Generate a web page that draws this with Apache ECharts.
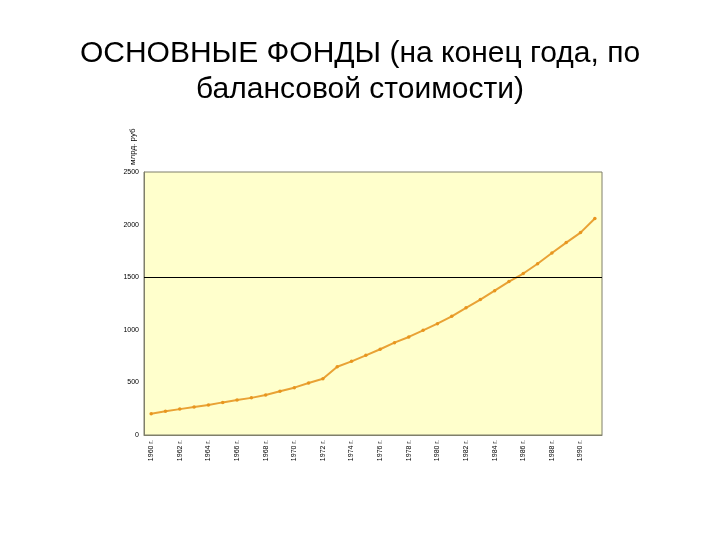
<!DOCTYPE html>
<html>
<head>
<meta charset="utf-8">
<script src="https://cdn.jsdelivr.net/npm/echarts@6/dist/echarts.min.js"></script>
<style>
html,body{margin:0;padding:0;background:#fff;}
#main{width:720px;height:540px;}
</style>
</head>
<body>
<div id="main"></div>
<script>
var years = ['1960 г.','1961 г.','1962 г.','1963 г.','1964 г.','1965 г.','1966 г.','1967 г.','1968 г.','1969 г.',
  '1970 г.','1971 г.','1972 г.','1973 г.','1974 г.','1975 г.','1976 г.','1977 г.','1978 г.','1979 г.',
  '1980 г.','1981 г.','1982 г.','1983 г.','1984 г.','1985 г.','1986 г.','1987 г.','1988 г.','1989 г.',
  '1990 г.','1991 г.'];
var fixedAssets = [203,225,246,266,286,310,332,353,380,415,
  450,494,534,649,700,757,815,878,932,995,
  1058,1128,1209,1287,1372,1458,1535,1628,1730,1829,
  1924,2058];
var referenceLevel = 1500;
var titleText = 'ОСНОВНЫЕ ФОНДЫ (на конец года, по\nбалансовой стоимости)';
var unitText = 'млрд. руб';

var chart = echarts.init(document.getElementById('main'), null, {renderer:'canvas'});
chart.setOption({
  animation:false,
  backgroundColor:'#ffffff',
  title:{
    text:titleText,
    left:'center',
    top:31,
    textStyle:{fontFamily:'Liberation Sans',fontSize:30,fontWeight:'normal',color:'#000',lineHeight:36}
  },
  graphic:[{
    type:'text',
    x:133,
    y:165,
    rotation:Math.PI/2,
    style:{text:unitText,fontFamily:'Liberation Sans',fontSize:8,fill:'#000',textAlign:'left',textVerticalAlign:'middle'}
  }],
  grid:{left:144,right:118,top:172,bottom:105,show:true,backgroundColor:'#FFFFCC',borderColor:'#7f7f6a',borderWidth:1},
  xAxis:{
    type:'category',
    data:years,
    boundaryGap:true,
    axisLine:{show:true,lineStyle:{color:'#7f7f6a',width:1}},
    axisTick:{show:false},
    axisLabel:{interval:1,rotate:90,fontFamily:'Liberation Sans',fontSize:7,color:'#000',margin:5}
  },
  yAxis:{
    type:'value',
    min:0,max:2500,interval:500,
    axisLine:{show:true,lineStyle:{color:'#7f7f6a',width:1}},
    axisTick:{show:false},
    splitLine:{show:false},
    axisLabel:{fontFamily:'Liberation Sans',fontSize:7,color:'#000',margin:5,formatter:function(v){return String(v);}}
  },
  series:[{
    type:'line',
    data:fixedAssets,
    symbol:'circle',
    symbolSize:3.5,
    lineStyle:{color:'#E9A235',width:2},
    itemStyle:{color:'#E8961E'},
    markLine:{
      silent:true,
      symbol:['none','none'],
      label:{show:false},
      lineStyle:{color:'#000',width:1,type:'solid'},
      data:[{yAxis:referenceLevel}]
    }
  }]
});
</script>
</body>
</html>
